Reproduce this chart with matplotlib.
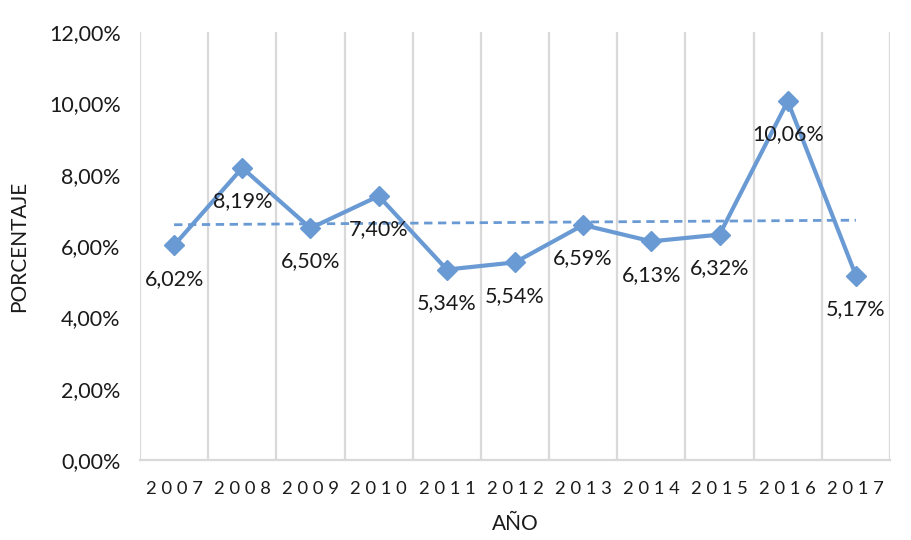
import matplotlib.pyplot as plt
import numpy as np

plt.rcParams['font.family'] = ['Lato', 'DejaVu Sans']

years = ['2007', '2008', '2009', '2010', '2011', '2012', '2013', '2014', '2015', '2016', '2017']
values = [6.02, 8.19, 6.50, 7.40, 5.34, 5.54, 6.59, 6.13, 6.32, 10.06, 5.17]
yticks = [0, 2, 4, 6, 8, 10, 12]

color = '#6A9AD4'
grid_color = '#D9D9D9'

fig = plt.figure(figsize=(9.12, 5.4), dpi=100)
ax = fig.add_axes([140 / 912, 80 / 540, 750 / 912, 428 / 540])

x = np.arange(len(years))
ax.plot(x, values, color=color, lw=3, marker='D', ms=10, zorder=3)

# linear trend line
slope, intercept = np.polyfit(x, values, 1)
ax.plot(x, slope * x + intercept, color=color, lw=2, ls=(0, (3, 2)), zorder=2)

for xi, v in zip(x, values):
    lbl = f'{v:.2f}%'.replace('.', ',')
    ax.annotate(lbl, (xi, v), xytext=(0, -24), textcoords='offset points',
                ha='center', va='center', fontsize=15.5, color='#1a1a1a', zorder=4)

ax.set_xlim(-0.5, len(years) - 0.5)
ax.set_ylim(0, 12)
ax.set_yticks(yticks)
ax.set_yticklabels([f'{t:.2f}%'.replace('.', ',') for t in yticks], fontsize=15.5, color='#1a1a1a')
ax.set_xticks(x)
ax.set_xticklabels([' '.join(y) for y in years], fontsize=13.2, color='#1a1a1a')

for b in np.arange(-0.5, len(years), 1):
    ax.axvline(b, color=grid_color, lw=1.6, zorder=1)

for s in ['top', 'right', 'left']:
    ax.spines[s].set_visible(False)
ax.spines['bottom'].set_color(grid_color)
ax.spines['bottom'].set_linewidth(1.6)
ax.tick_params(axis='y', length=0, pad=14)
ax.tick_params(axis='x', length=0, pad=15)

ax.set_ylabel('PORCENTAJE', fontsize=15, color='#1a1a1a', labelpad=14)
ax.set_xlabel('AÑO', fontsize=15, color='#1a1a1a', labelpad=12)

fig.savefig('out.png', dpi=100)
